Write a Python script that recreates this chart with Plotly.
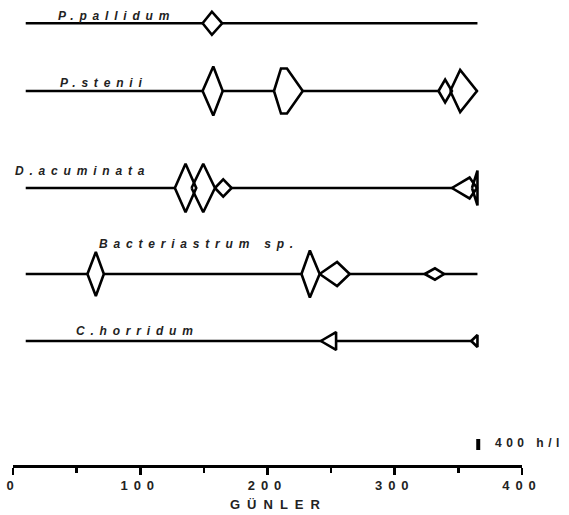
import plotly.graph_objects as go

# ---------------- data ----------------
species = ["P.pallidum", "P.stenii", "D.acuminata", "Bacteriastrum sp.", "C.horridum"]
line_start_day = 10
line_end_day = 365

# kites per species: each kite is a list of days and a list of abundances (h/l)
pallidum_days = [[149.0, 156.3, 164.4]]
pallidum_vals = [[0, 840, 0]]

stenii_days = [[149.0, 157.4, 164.8], [205.1, 210.6, 215.3, 227.7], [334.4, 339.6, 344.9], [343.6, 351.4, 364.6]]
stenii_vals = [[0, 1780, 0], [0, 1640, 1640, 0], [0, 825, 0], [0, 1530, 0]]

acuminata_days = [[127.2, 135.6, 144.0], [140.3, 149.5, 158.7], [158.7, 165.2, 171.8], [344.9, 358.8, 364.6], [360.7, 365.0, 365.0]]
acuminata_vals = [[0, 1760, 0], [0, 1760, 0], [0, 630, 0], [0, 760, 0], [0, 1270, 0]]

bact_days = [[58.5, 65.1, 71.4], [226.7, 233.3, 241.0], [241.0, 254.7, 264.6], [323.6, 331.6, 338.7]]
bact_vals = [[0, 1600, 0], [0, 1710, 0], [0, 870, 0], [0, 410, 0]]

horridum_days = [[241.9, 253.9, 253.9], [360.1, 365.0, 365.0]]
horridum_vals = [[0, 650, 0], [0, 440, 0]]

scale_value = 400          # h/l, scale bar
x_ticks = [0, 100, 200, 300, 400]
x_minor = [50, 150, 250, 350]
x_title = "GÜNLER"
scale_label = "400 h/l"

# ---------------- layout constants ----------------
W, H = 569, 515
ML, MR, MT, MB = 13, 47, 0, 50
plot_h = H - MT - MB
px_per_unit = 11 / 400.0            # vertical pixels per h/l
y_max = plot_h / px_per_unit

def ypx(p):  # pixel row -> y value
    return (MT + plot_h - p) / px_per_unit

baseline_px = [23.3, 91.0, 188.0, 274.0, 341.0]
label_pos = [(33.6, 15.8), (35.2, 82.8), (0.0, 170.8), (66.0, 244.0), (48.0, 331.0)]

all_days = [pallidum_days, stenii_days, acuminata_days, bact_days, horridum_days]
all_vals = [pallidum_vals, stenii_vals, acuminata_vals, bact_vals, horridum_vals]

fig = go.Figure()

# baselines
for bpx in baseline_px:
    b = ypx(bpx)
    fig.add_trace(go.Scatter(x=[line_start_day, line_end_day], y=[b, b], mode="lines",
                             line=dict(color="black", width=2.6), hoverinfo="skip", showlegend=False))

polys = []
for bpx, dlist, vlist in zip(baseline_px, all_days, all_vals):
    b = ypx(bpx)
    for d, v in zip(dlist, vlist):
        xs = list(d) + list(reversed(d)) + [d[0]]
        ys = [b + vv / 2 for vv in v] + [b - vv / 2 for vv in reversed(v)] + [b]
        polys.append((xs, ys))

# white fills
for xs, ys in polys:
    fig.add_trace(go.Scatter(x=xs, y=ys, mode="lines", fill="toself", fillcolor="white",
                             line=dict(width=0, color="rgba(0,0,0,0)"), hoverinfo="skip", showlegend=False))
# outlines
for xs, ys in polys:
    fig.add_trace(go.Scatter(x=xs, y=ys, mode="lines",
                             line=dict(width=2.6, color="black"), hoverinfo="skip", showlegend=False))

# scale bar
sb_x = 365.6
sb_y0 = ypx(450)
fig.add_trace(go.Scatter(x=[sb_x, sb_x], y=[sb_y0, sb_y0 + scale_value], mode="lines",
                         line=dict(width=4, color="black"), hoverinfo="skip", showlegend=False))

annotations = []
for name, (lx, lpy) in zip(species, label_pos):
    annotations.append(dict(x=lx, y=ypx(lpy), xref="x", yref="y", text=name, showarrow=False,
                            xanchor="left", yanchor="middle", align="left",
                            font=dict(family="Liberation Sans", size=12, color="#222",
                                      weight="bold", style="italic")))
annotations.append(dict(x=209, y=-(505 - plot_h) / plot_h, xref="x", yref="paper", text=x_title,
                        showarrow=False, xanchor="center", yanchor="middle",
                        font=dict(family="Liberation Sans", size=13, color="#222", weight="bold")))
annotations.append(dict(x=377.0, y=ypx(443), xref="x", yref="y", text=scale_label, showarrow=False,
                        xanchor="left", yanchor="middle", align="left",
                        font=dict(family="Liberation Sans", size=12, color="#222", weight="bold")))

fig.update_layout(
    width=W, height=H,
    margin=dict(l=ML, r=MR, t=MT, b=MB, pad=0),
    paper_bgcolor="white", plot_bgcolor="white",
    showlegend=False,
    annotations=annotations,
    xaxis=dict(range=[0, 400], showgrid=False, zeroline=False, showline=True,
               linecolor="black", linewidth=2.6, ticks="outside", tickwidth=2.6, ticklen=7,
               tickcolor="black", tickvals=x_ticks, ticktext=[str(t) for t in x_ticks],
               tickfont=dict(family="Liberation Sans", size=13, color="#222", weight="bold"),
               minor=dict(tickvals=x_minor, ticks="outside", ticklen=5, tickwidth=2.6, tickcolor="black"),
               fixedrange=True),
    yaxis=dict(range=[0, y_max], visible=False, fixedrange=True),
)

post = """
var gd = document.getElementById('{plot_id}');
function spacing(){
  gd.querySelectorAll('text').forEach(function(t){
    var s = t.textContent;
    if (/^\\d+$/.test(s)) { t.style.letterSpacing = '6px'; }
    else if (s.indexOf('NLER') >= 0) { t.style.letterSpacing = '7px'; }
    else if (s.indexOf('h/l') >= 0) { t.style.letterSpacing = '4.5px'; }
    else if (t.classList.contains('annotation-text')) { t.style.letterSpacing = '5.8px'; }
  });
}
spacing();
"""

fig.write_html("out.html", post_script=post, config={"displayModeBar": False, "staticPlot": True})
